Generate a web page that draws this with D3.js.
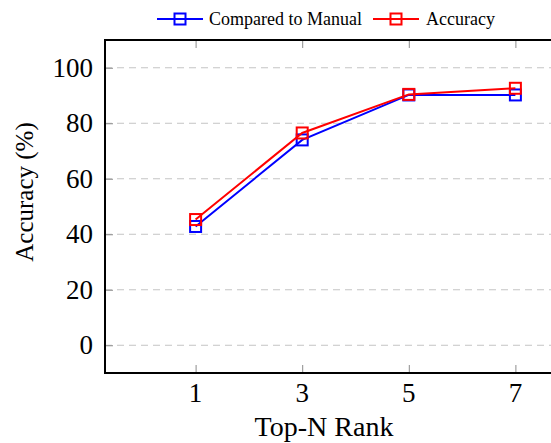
<!DOCTYPE html>
<html><head><meta charset="utf-8">
<script src="https://cdn.jsdelivr.net/npm/d3@7"></script>
<style>body{margin:0;background:#fff;} svg{display:block;} text{font-family:"Liberation Serif","DejaVu Serif",serif;}</style>
</head><body>
<svg id="c" width="551" height="443"></svg>
<script>
const ranks = [1, 3, 5, 7];
const comparedToManual = [42.8, 74, 90.2, 90.2];
const accuracy = [45.3, 76.5, 90.4, 92.6];
const xTicks = [1, 3, 5, 7];
const yTicks = [0, 20, 40, 60, 80, 100];
const seriesNames = ["Compared to Manual", "Accuracy"];
const seriesColors = ["#0000ff", "#ff0000"];

const svg = d3.select("#c");
const L = 105, T = 40, B = 373, R = 606;
const x = d3.scaleLinear().domain([-0.7, 8.7]).range([L, R]);
const y = d3.scaleLinear().domain([-10, 110]).range([B, T]);

// grid
svg.append("g").selectAll("line").data(yTicks).join("line")
  .attr("x1", L).attr("x2", R).attr("y1", d => y(d)).attr("y2", d => y(d))
  .attr("stroke", "#c4c4c4").attr("stroke-width", 1).attr("stroke-dasharray", "7,5");

// ticks via axes (inward)
const gx = svg.append("g").attr("transform", `translate(0,${B})`)
  .call(d3.axisTop(x).tickValues(xTicks).tickSize(8).tickFormat(""));
const gxt = svg.append("g").attr("transform", `translate(0,${T})`)
  .call(d3.axisBottom(x).tickValues(xTicks).tickSize(8).tickFormat(""));
const gy = svg.append("g").attr("transform", `translate(${L},0)`)
  .call(d3.axisRight(y).tickValues(yTicks).tickSize(8).tickFormat(""));
[gx, gxt, gy].forEach(g => {
  g.select(".domain").remove();
  g.selectAll(".tick line").attr("stroke", "#8c8c8c").attr("stroke-width", 1);
});

// tick labels
svg.append("g").selectAll("text").data(xTicks).join("text")
  .attr("x", d => x(d)).attr("y", 402).attr("text-anchor", "middle")
  .style("font-size", "27px").text(d => d);
svg.append("g").selectAll("text").data(yTicks).join("text")
  .attr("x", 93).attr("y", d => y(d) + 9).attr("text-anchor", "end")
  .style("font-size", "27px").text(d => d);

// axis labels
svg.append("text").attr("x", 324).attr("y", 436).attr("text-anchor", "middle")
  .style("font-size", "28px").text("Top-N Rank");
svg.append("text").attr("transform", "translate(33,192) rotate(-90)").attr("text-anchor", "middle")
  .style("font-size", "25px").text("Accuracy (%)");

// series
const series = [comparedToManual, accuracy];
const line = d3.line().x((d, i) => x(ranks[i])).y(d => y(d));
series.forEach((vals, k) => {
  svg.append("path").datum(vals).attr("d", line)
    .attr("fill", "none").attr("stroke", seriesColors[k]).attr("stroke-width", 2);
  svg.append("g").selectAll("rect").data(vals).join("rect")
    .attr("x", (d, i) => x(ranks[i]) - 5.5).attr("y", d => y(d) - 5.5)
    .attr("width", 11).attr("height", 11)
    .attr("fill", "none").attr("stroke", seriesColors[k]).attr("stroke-width", 2);
});

// frame
svg.append("rect").attr("x", L).attr("y", T).attr("width", R - L).attr("height", B - T)
  .attr("fill", "none").attr("stroke", "#000").attr("stroke-width", 2);

// legend
const lg = svg.append("g");
lg.append("rect").attr("x", 148).attr("y", 0).attr("width", 362).attr("height", 39).attr("fill", "#fff");
const legX = [157, 373], legTx = [209, 426];
seriesNames.forEach((n, k) => {
  const cy = 19;
  lg.append("line").attr("x1", legX[k]).attr("x2", legX[k] + 46).attr("y1", cy).attr("y2", cy)
    .attr("stroke", seriesColors[k]).attr("stroke-width", 2);
  lg.append("rect").attr("x", legX[k] + 17.5).attr("y", cy - 5.5).attr("width", 11).attr("height", 11)
    .attr("fill", "none").attr("stroke", seriesColors[k]).attr("stroke-width", 2);
  lg.append("text").attr("x", legTx[k]).attr("y", cy + 6)
    .style("font-size", "18px").text(n);
});
</script>
</body></html>
